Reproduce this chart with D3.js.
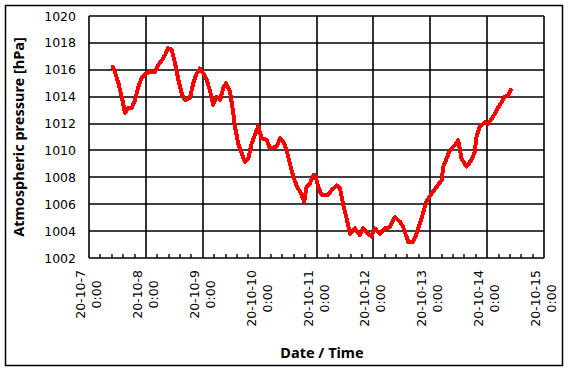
<html lang="en">
<head>
  <meta charset="utf-8" />
  <script src="https://d3js.org/d3.v7.min.js"></script>
  <style>
    body { margin: 0; background: #fff; }
    text { font-family: "DejaVu Sans", sans-serif; fill: #000; }
  </style>
</head>
<body>
<script>
  // hours after 2020-10-07 0:00, and pressure in hPa
  var hours = [10.1, 11.0, 12.4, 13.8, 14.5, 15.2, 16.6, 18.0, 19.4, 20.8, 22.2, 24.3, 26.4, 27.8,
    29.2, 30.7, 32.1, 33.4, 34.9, 36.3, 37.7, 39.1, 40.5, 42.6, 44.0, 45.4, 46.8, 48.2, 49.6,
    51.0, 52.4, 53.9, 55.3, 56.6, 57.8, 59.5, 60.9, 61.6, 63.0, 64.4, 65.8, 67.2, 68.6, 70.0,
    71.4, 72.8, 75.0, 76.3, 79.2, 80.6, 82.0, 83.4, 84.8, 86.2, 87.6, 89.7, 90.8, 91.8, 93.2,
    94.9, 95.7, 96.7, 98.2, 100.9, 102.4, 104.5, 105.9, 107.3, 108.7, 110.1, 112.2, 114.3,
    115.7, 117.8, 119.2, 120.6, 122.7, 124.9, 127.0, 129.1, 131.2, 132.6, 134.7, 136.8, 138.2,
    140.3, 142.4, 144.6, 146.7, 148.8, 149.5, 150.9, 152.3, 154.4, 155.8, 157.2, 159.3, 161.4,
    162.8, 163.5, 164.9, 167.0, 168.4, 170.5, 172.0, 174.1, 175.5, 176.9, 178.0];
  var pressure = [1016.2, 1015.8, 1015.0, 1014.0, 1013.4, 1012.8, 1013.15, 1013.15, 1013.75, 1014.7,
    1015.4, 1015.75, 1015.85, 1015.85, 1016.35, 1016.7, 1017.1, 1017.6, 1017.5, 1016.5, 1015.25,
    1014.25, 1013.75, 1013.9, 1015.0, 1015.7, 1016.1, 1015.75, 1015.25, 1014.5, 1013.4, 1014.0,
    1013.75, 1014.6, 1015.0, 1014.4, 1012.75, 1011.75, 1010.5, 1009.8, 1009.15, 1009.4, 1010.5,
    1011.15, 1011.8, 1010.9, 1010.8, 1010.15, 1010.3, 1010.9, 1010.65, 1010.0, 1009.0, 1008.05,
    1007.4, 1006.7, 1006.2, 1007.3, 1007.55, 1008.2, 1008.0, 1007.3, 1006.7, 1006.7, 1007.05,
    1007.4, 1007.2, 1005.95, 1004.95, 1003.8, 1004.2, 1003.7, 1004.2, 1003.8, 1003.6, 1004.2,
    1003.8, 1004.2, 1004.3, 1005.05, 1004.7, 1004.3, 1003.2, 1003.2, 1003.8, 1004.95, 1006.2,
    1006.8, 1007.3, 1007.8, 1008.8, 1009.4, 1010.0, 1010.4, 1010.75, 1009.4, 1008.8, 1009.3,
    1009.9, 1011.0, 1011.75, 1012.1, 1012.0, 1012.5, 1013.0, 1013.6, 1014.0, 1014.1, 1014.5];

  var yTicks = [1002, 1004, 1006, 1008, 1010, 1012, 1014, 1016, 1018, 1020];
  var dayLabels = ["20-10-7", "20-10-8", "20-10-9", "20-10-10", "20-10-11",
                   "20-10-12", "20-10-13", "20-10-14", "20-10-15"];
  var timeLabel = "0:00";

  var start = new Date(2020, 9, 7);
  var days = dayLabels.map(function (d, i) { return d3.timeDay.offset(start, i); });
  var data = hours.map(function (h, i) {
    return { t: new Date(start.getTime() + h * 3600000), p: pressure[i] };
  });

  var svg = d3.select("body").append("svg")
    .attr("width", 570)
    .attr("height", 372);

  // outer chart frame
  svg.append("rect")
    .attr("x", 5.5).attr("y", 5.5)
    .attr("width", 557).attr("height", 360)
    .attr("fill", "none")
    .attr("stroke", "#000")
    .attr("stroke-width", 1.5);

  var x = d3.scaleTime().domain([days[0], days[days.length - 1]]).range([89, 544]);
  var y = d3.scaleLinear().domain([1002, 1020]).range([258, 16]);

  // horizontal grid
  svg.selectAll(".hgrid")
    .data(yTicks)
    .join("line")
    .attr("class", "hgrid")
    .attr("x1", 89).attr("x2", 544)
    .attr("y1", function (d) { return Math.round(y(d)); })
    .attr("y2", function (d) { return Math.round(y(d)); })
    .attr("stroke", "#000")
    .attr("stroke-width", 1.6);

  // vertical grid, one per day
  svg.selectAll(".vgrid")
    .data(days)
    .join("line")
    .attr("class", "vgrid")
    .attr("x1", function (d) { return Math.round(x(d)); })
    .attr("x2", function (d) { return Math.round(x(d)); })
    .attr("y1", 16).attr("y2", 258)
    .attr("stroke", "#000")
    .attr("stroke-width", 1.6);

  // minor ticks, 4 between days, pointing into the plot
  var minor = d3.range(0, (days.length - 1) * 5).filter(function (i) { return i % 5 != 0; })
    .map(function (i) { return new Date(start.getTime() + i * 4.8 * 3600000); });
  svg.selectAll(".minor")
    .data(minor)
    .join("line")
    .attr("class", "minor")
    .attr("x1", function (d) { return Math.round(x(d)); })
    .attr("x2", function (d) { return Math.round(x(d)); })
    .attr("y1", 258).attr("y2", 254)
    .attr("stroke", "#000")
    .attr("stroke-width", 1.4);

  // y tick labels
  svg.selectAll(".ylab")
    .data(yTicks)
    .join("text")
    .attr("class", "ylab")
    .attr("x", 76)
    .attr("y", function (d) { return y(d) + 4.5; })
    .attr("text-anchor", "end")
    .style("font-size", "12.5px")
    .text(function (d) { return d; });

  // x tick labels, rotated, two centered lines
  var xl = svg.selectAll(".xlab")
    .data(days)
    .join("g")
    .attr("class", "xlab");
  xl.each(function (d, i) {
    var g = d3.select(this);
    var t1 = g.append("text").style("font-size", "12.5px").attr("text-anchor", "middle").text(dayLabels[i]);
    var len = t1.node().getComputedTextLength();
    var cy = 270 + len / 2;
    var cx = x(d);
    t1.attr("transform", "translate(" + (cx - 4) + "," + cy + ") rotate(-90)");
    g.append("text").style("font-size", "12.5px").attr("text-anchor", "middle").text(timeLabel)
      .attr("transform", "translate(" + (cx + 12) + "," + cy + ") rotate(-90)");
  });

  // axis titles
  svg.append("text")
    .attr("transform", "translate(24,137) rotate(-90)")
    .attr("text-anchor", "middle")
    .style("font-size", "14.5px")
    .style("font-weight", "bold")
    .style("font-family", "'Noto Sans', sans-serif")
    .text("Atmospheric pressure [hPa]");

  svg.append("text")
    .attr("x", 322).attr("y", 358)
    .attr("text-anchor", "middle")
    .style("font-size", "14.5px")
    .style("font-weight", "bold")
    .style("font-family", "'Noto Sans', sans-serif")
    .text("Date / Time");

  // pressure line
  var line = d3.line()
    .x(function (d) { return x(d.t); })
    .y(function (d) { return y(d.p); });

  svg.append("path")
    .datum(data)
    .attr("d", line)
    .attr("fill", "none")
    .attr("stroke", "#ff0000")
    .attr("stroke-width", 4)
    .attr("stroke-linejoin", "round")
    .attr("stroke-linecap", "square")
    .attr("shape-rendering", "crispEdges");
</script>
</body>
</html>
